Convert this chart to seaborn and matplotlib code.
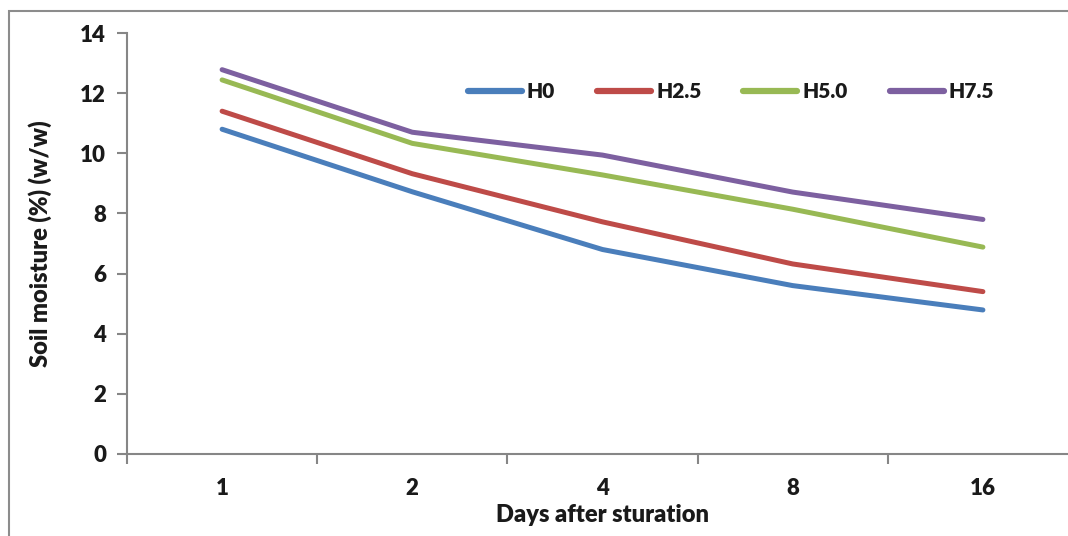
import matplotlib
matplotlib.use("Agg")
import matplotlib.pyplot as plt
import seaborn as sns
import pandas as pd
from matplotlib.ticker import FixedLocator, NullFormatter

days = ["1", "2", "4", "8", "16"]
h0 = [10.8, 8.72, 6.8, 5.6, 4.79]
h25 = [11.4, 9.32, 7.72, 6.32, 5.4]
h50 = [12.44, 10.33, 9.28, 8.14, 6.88]
h75 = [12.78, 10.7, 9.94, 8.71, 7.8]
series_names = ["H0", "H2.5", "H5.0", "H7.5"]
colors = ["#4A7EBB", "#BE4B48", "#98B954", "#7D60A0"]

rows = []
for name, vals in zip(series_names, [h0, h25, h50, h75]):
    for d, v in zip(days, vals):
        rows.append({"day": d, "moisture": v, "series": name})
df = pd.DataFrame(rows)

sns.set_style("white")
plt.rcParams["font.family"] = ["Lato", "DejaVu Sans"]
plt.rcParams["font.weight"] = "heavy"
W = "heavy"
TC = "#1a1a1a"

fig = plt.figure(figsize=(10.68, 5.36), dpi=100)
ax = fig.add_axes([127 / 1068, 1 - 454 / 536, 951 / 1068, (454 - 33) / 536])

sns.lineplot(data=df, x="day", y="moisture", hue="series", palette=colors,
             sort=False, linewidth=3.6, ax=ax, solid_capstyle="round")

ax.set_xlim(-0.5, len(days) - 0.5)
ax.set_ylim(0, 14)
ax.set_yticks(range(0, 15, 2))
ax.set_xticks(range(len(days)))
ax.set_xticklabels(days)
ax.xaxis.set_minor_locator(FixedLocator([i - 0.5 for i in range(len(days) + 1)]))
ax.xaxis.set_minor_formatter(NullFormatter())

spine_c = "#868686"
for s in ["top", "right"]:
    ax.spines[s].set_visible(False)
for s in ["left", "bottom"]:
    ax.spines[s].set_color(spine_c)
    ax.spines[s].set_linewidth(1.5)

ax.tick_params(axis="y", which="major", direction="out", length=7, width=1.5,
               color=spine_c, labelsize=16, pad=8, left=True)
ax.tick_params(axis="x", which="major", length=0, labelsize=16, pad=17)
ax.tick_params(axis="x", which="minor", direction="out", length=7, width=1.5,
               color=spine_c, bottom=True)
for lab in ax.get_xticklabels() + ax.get_yticklabels():
    lab.set_fontweight(W)
    lab.set_color(TC)

ax.set_xlabel("Days after sturation", fontsize=17, fontweight=W,
              color=TC, labelpad=4)
ax.set_ylabel("Soil moisture (%) (w/w)", fontsize=17, fontweight=W,
              color=TC, labelpad=20)

handles, labels = ax.get_legend_handles_labels()
for h in handles:
    h.set_linewidth(4.5)
    h.set_solid_capstyle("round")
leg = ax.legend(handles, labels, ncol=4, frameon=False, loc="center",
                bbox_to_anchor=(731 / 1068, 1 - 92 / 536),
                bbox_transform=fig.transFigure,
                handlelength=2.6, handletextpad=0.25, columnspacing=2.0,
                prop={"size": 15, "weight": W})
for t in leg.get_texts():
    t.set_color(TC)

frame = plt.Rectangle((8.5 / 1068, -0.2), 1.2, 1.2 - 11 / 536,
                      transform=fig.transFigure, fill=False,
                      edgecolor="#8c8c8c", linewidth=1.5, zorder=0)
fig.patches.append(frame)

fig.savefig("out.png", dpi=100)
